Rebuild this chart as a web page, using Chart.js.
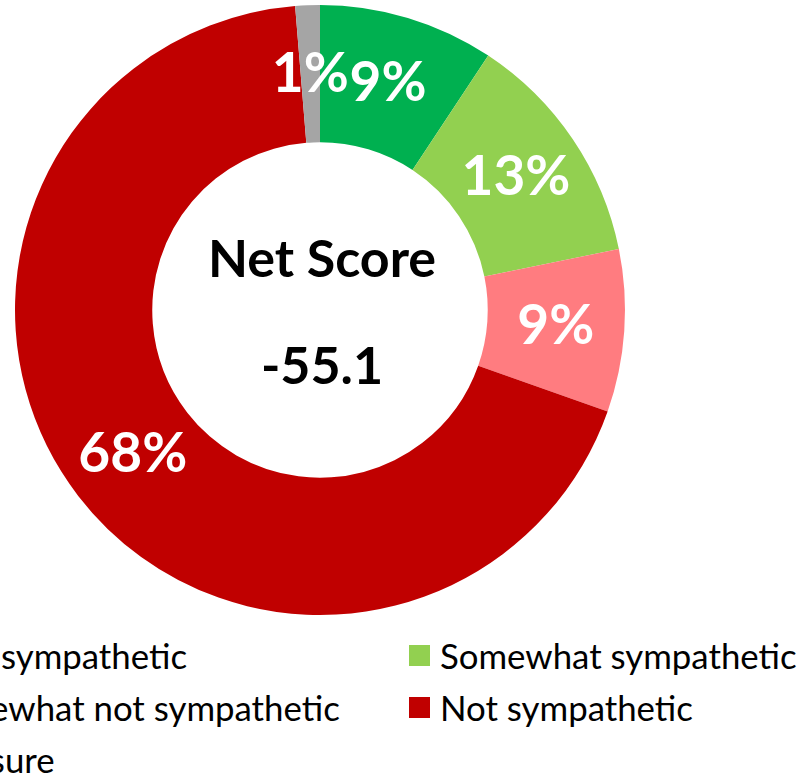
<!DOCTYPE html>
<html>
<head>
<meta charset="utf-8">
<script src="https://cdn.jsdelivr.net/npm/chart.js@4.4.1/dist/chart.umd.min.js"></script>
<style>
  html, body { margin: 0; padding: 0; width: 800px; height: 779px; overflow: hidden; background: #fff; position: relative; }
  #wrap { position: absolute; left: -180px; top: 0; width: 1000px; height: 620px; }
  #legend { position: absolute; left: -108px; top: 629px; font-family: Lato, "Open Sans", sans-serif; font-size: 34.8px; color: #000; }
  .row { display: flex; height: 52px; align-items: center; }
  .item { display: flex; align-items: center; width: 517px; white-space: nowrap; }
  .box { width: 21px; height: 21px; margin-right: 10px; flex: none; }
</style>
</head>
<body>
<div id="wrap"><canvas id="c"></canvas></div>
<div id="legend"></div>
<script>
const categories = ['Very sympathetic', 'Somewhat sympathetic', 'Somewhat not sympathetic', 'Not sympathetic', 'Not sure'];
const values = [9.3, 12.5, 8.6, 68.3, 1.3];
const colors = ['#00B050', '#92D050', '#FF7C80', '#C00000', '#A5A5A5'];
const centerTitle = 'Net Score';
const netScore = '-55.1';

// HTML legend, two columns, row-major
const legend = document.getElementById('legend');
for (let i = 0; i < categories.length; i += 2) {
  const row = document.createElement('div');
  row.className = 'row';
  for (let j = i; j < Math.min(i + 2, categories.length); j++) {
    const item = document.createElement('div');
    item.className = 'item';
    const box = document.createElement('span');
    box.className = 'box';
    box.style.background = colors[j];
    const txt = document.createElement('span');
    txt.textContent = categories[j];
    item.appendChild(box);
    item.appendChild(txt);
    row.appendChild(item);
  }
  legend.appendChild(row);
}

const sliceLabels = {
  id: 'sliceLabels',
  afterDatasetsDraw(chart) {
    const ctx = chart.ctx;
    const meta = chart.getDatasetMeta(0);
    ctx.save();
    ctx.font = 'bold 55px Lato, "Open Sans", sans-serif';
    ctx.fillStyle = '#fff';
    ctx.textAlign = 'center';
    ctx.textBaseline = 'middle';
    meta.data.forEach((arc, i) => {
      const p = arc.getCenterPoint();
      ctx.fillText(Math.round(values[i]) + '%', p.x, p.y);
    });
    ctx.restore();
  }
};

const centerText = {
  id: 'centerText',
  afterDraw(chart) {
    const ctx = chart.ctx;
    const arc = chart.getDatasetMeta(0).data[0];
    const cx = arc.x, cy = arc.y;
    ctx.save();
    ctx.font = 'bold 52px Lato, "Open Sans", sans-serif';
    ctx.fillStyle = '#000';
    ctx.textAlign = 'center';
    ctx.textBaseline = 'middle';
    ctx.fillText(centerTitle, cx + 2, cy - 50);
    ctx.fillText(netScore, cx + 2, cy + 57);
    ctx.restore();
  }
};

new Chart(document.getElementById('c'), {
  type: 'doughnut',
  data: {
    labels: categories,
    datasets: [{
      data: values,
      backgroundColor: colors,
      borderWidth: 0
    }]
  },
  options: {
    responsive: true,
    maintainAspectRatio: false,
    animation: false,
    cutout: '55%',
    layout: { padding: { top: 5, bottom: 5 } },
    plugins: {
      legend: { display: false },
      tooltip: { enabled: false }
    }
  },
  plugins: [sliceLabels, centerText]
});
</script>
</body>
</html>
